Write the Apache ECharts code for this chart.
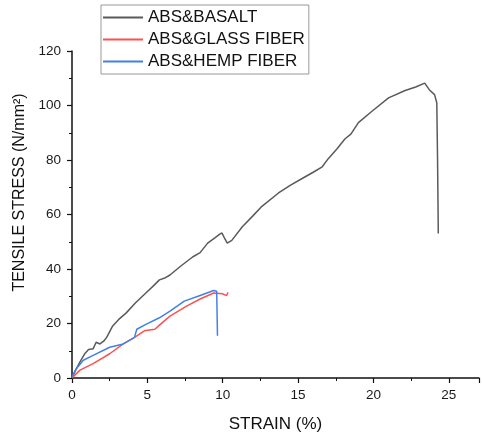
<!DOCTYPE html>
<html><head><meta charset="utf-8">
<script src="https://cdn.jsdelivr.net/npm/echarts@6/dist/echarts.min.js"></script>
<style>html,body{margin:0;padding:0;background:#fff}#c{width:482px;height:438px}</style>
</head><body><div id="c"></div>
<script>
const seriesNames = ['ABS&BASALT', 'ABS&GLASS FIBER', 'ABS&HEMP FIBER'];
const basaltStrain = [0,0.25,0.53,0.86,1.1,1.4,1.6,1.85,2.1,2.3,2.5,2.7,3.1,3.6,4.2,4.9,5.4,5.8,6.2,6.5,7.2,8,8.5,9,9.5,9.8,9.95,10.1,10.3,10.6,11.3,12,12.6,13.7,14.5,15.3,16,16.6,17,17.6,18.1,18.5,19,19.9,21,22.1,22.8,23.4,23.7,24.05,24.2,24.25,24.3];
const basaltStress = [0,3,5.9,9,10.5,10.7,13.1,12.5,13.5,14.9,17,19.1,21.5,23.9,27.5,31.2,33.8,36,36.8,37.8,41,44.4,46,49.5,51.5,52.8,53.2,51.5,49.5,50.5,55.5,59.5,63,67.9,70.8,73.3,75.5,77.5,80.5,84.2,87.7,89.5,93.7,97.9,102.8,105.5,106.8,108.2,105.8,104,101,80.5,53];
const glassStrain = [0,0.53,1.4,2.5,3.4,4.15,4.8,5.5,5.8,6.5,7.6,8.5,9.4,10.0,10.25,10.35];
const glassStress = [0,2.9,5.3,8.9,12.5,14.9,17.3,17.9,19.4,22.7,26.4,29,31.2,30.9,30.2,31.4];
const hempStrain = [0,0.3,0.75,1.4,2.5,3.4,4.15,4.25,4.3,4.9,5.8,6.5,7.45,8.5,9.4,9.6,9.65];
const hempStress = [0.5,3.5,6.5,8.3,11.3,12.5,14.9,17,17.9,19.7,22.1,24.5,28.2,30.3,32.1,31.8,15.5];
const xTicks = [0,5,10,15,20,25];
const yTicks = [0,20,40,60,80,100,120];

const zip = (a,b) => a.map((v,i)=>[v,b[i]]);
const colors = ['#5a5a5a','#ff5050','#4080e8'];
const font = 'Liberation Sans, Arial, sans-serif';
const chart = echarts.init(document.getElementById('c'));
chart.setOption({
  animation:false,
  grid:{left:72,right:1,top:51,bottom:54},
  legend:{
    orient:'vertical', left:101, top:5,
    data:seriesNames,
    icon:'rect', itemWidth:40, itemHeight:2, itemGap:3,
    padding:[3,4,3,2],
    borderColor:'#999', borderWidth:1,
    textStyle:{fontFamily:font,fontSize:17,color:'#111',lineHeight:19}
  },
  xAxis:{
    type:'value', min:0, max:27, interval:5,
    name:'STRAIN (%)', nameLocation:'middle', nameGap:38,
    nameTextStyle:{fontFamily:font,fontSize:17,color:'#111'},
    axisLine:{lineStyle:{color:'#111',width:1.5}},
    axisTick:{show:true,length:5,inside:false,lineStyle:{color:'#111',width:1.2}},
    minorTick:{show:true,splitNumber:2,length:3,lineStyle:{color:'#111',width:1}},
    splitLine:{show:false},
    axisLabel:{fontFamily:font,fontSize:13.5,color:'#1a1a1a',margin:10,
      formatter:v=>xTicks.includes(v)?String(v):''}
  },
  yAxis:{
    type:'value', min:0, max:120, interval:20,
    name:'TENSILE STRESS (N/mm²)', nameLocation:'middle', nameGap:33, nameRotate:90,
    nameTextStyle:{fontFamily:font,fontSize:16,color:'#111',padding:[0,0,0,44]},
    axisLine:{show:true,lineStyle:{color:'#111',width:1.5}},
    axisTick:{show:true,length:5,lineStyle:{color:'#111',width:1.2}},
    minorTick:{show:true,splitNumber:2,length:3,lineStyle:{color:'#111',width:1}},
    splitLine:{show:false},
    axisLabel:{fontFamily:font,fontSize:13.5,color:'#1a1a1a',margin:11,
      formatter:v=>yTicks.includes(v)?String(v):''}
  },
  series:[
    {name:seriesNames[0],type:'line',data:zip(basaltStrain,basaltStress),showSymbol:false,lineStyle:{color:colors[0],width:1.5},itemStyle:{color:colors[0]}},
    {name:seriesNames[1],type:'line',data:zip(glassStrain,glassStress),showSymbol:false,lineStyle:{color:colors[1],width:1.5},itemStyle:{color:colors[1]}},
    {name:seriesNames[2],type:'line',data:zip(hempStrain,hempStress),showSymbol:false,lineStyle:{color:colors[2],width:1.5},itemStyle:{color:colors[2]}}
  ]
});
</script></body></html>
